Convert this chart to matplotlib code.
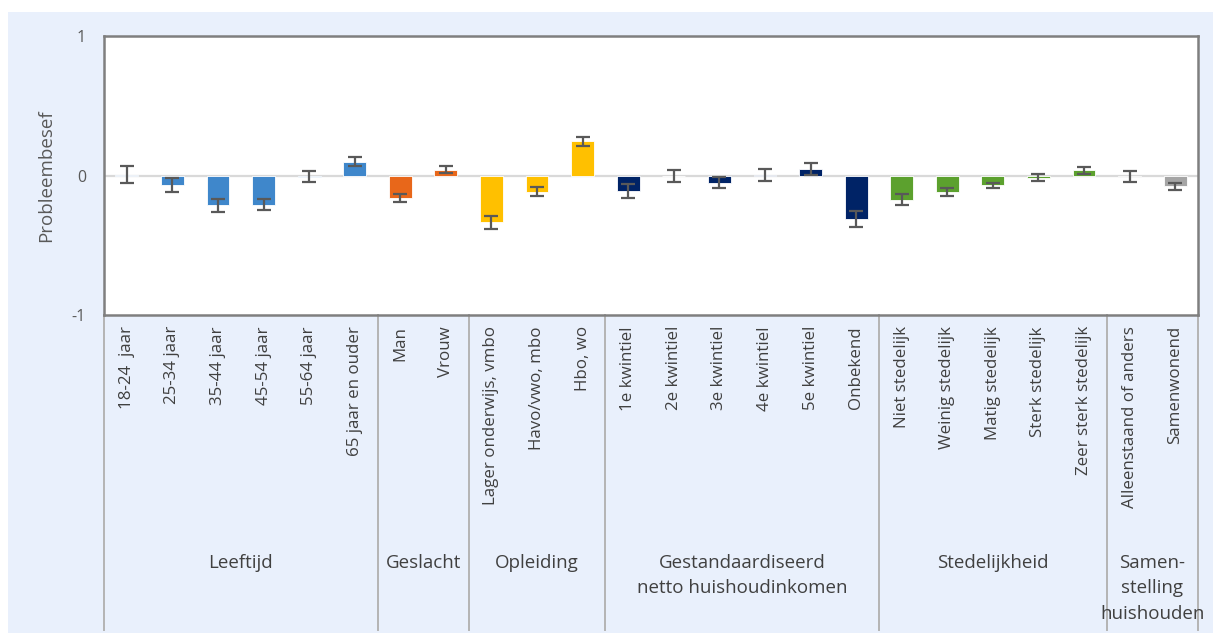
import matplotlib
matplotlib.use("Agg")
import matplotlib.pyplot as plt
from matplotlib.patches import Rectangle
from matplotlib.transforms import blended_transform_factory

plt.rcParams['font.family'] = ['Open Sans', 'DejaVu Sans']

# Categories, grouped by background characteristic
groups = ["Leeftijd", "Geslacht", "Opleiding",
          "Gestandaardiseerd\nnetto huishoudinkomen", "Stedelijkheid",
          "Samen-\nstelling\nhuishouden"]
group_sizes = [6, 2, 3, 6, 5, 2]
group_colors = ["#3F87CB", "#E8671A", "#FFC000", "#002366", "#5CA12E", "#A5A5A5"]

categories = ["18-24  jaar", "25-34 jaar", "35-44 jaar", "45-54 jaar", "55-64 jaar",
              "65 jaar en ouder",
              "Man", "Vrouw",
              "Lager onderwijs, vmbo", "Havo/vwo, mbo", "Hbo, wo",
              "1e kwintiel", "2e kwintiel", "3e kwintiel", "4e kwintiel",
              "5e kwintiel", "Onbekend",
              "Niet stedelijk", "Weinig stedelijk", "Matig stedelijk",
              "Sterk stedelijk", "Zeer sterk stedelijk",
              "Alleenstaand of anders", "Samenwonend"]

values = [0.005, -0.07, -0.215, -0.21, -0.01, 0.10,
          -0.16, 0.043,
          -0.335, -0.115, 0.245,
          -0.11, -0.005, -0.053, 0.002, 0.047, -0.31,
          -0.175, -0.12, -0.07, -0.015, 0.037,
          -0.01, -0.077]

errors = [0.06, 0.05, 0.05, 0.04, 0.04, 0.035,
          0.03, 0.024,
          0.045, 0.032, 0.033,
          0.05, 0.044, 0.04, 0.045, 0.04, 0.057,
          0.04, 0.028, 0.017, 0.025, 0.027,
          0.04, 0.024]

yticks = [-1, 0, 1]
ylabel = "Probleembesef"

W, H = 1213, 633
fig = plt.figure(figsize=(W / 100, H / 100), dpi=100)
fig.patch.set_facecolor("white")

# light panel behind the chart
fig.patches.append(Rectangle((8 / W, 0), 1 - 8 / W, (H - 12) / H,
                             transform=fig.transFigure, facecolor="#E9F0FC",
                             edgecolor="none", zorder=-10))

ax = fig.add_axes([104 / W, (H - 315) / H, 1094 / W, 279 / H])
ax.set_zorder(1)
ax.set_facecolor("white")

colors = []
for size, col in zip(group_sizes, group_colors):
    colors += [col] * size

x = list(range(len(categories)))
ax.axhline(0, color="#D9D9D9", lw=1.6, zorder=1)
ax.bar(x, values, width=0.5, color=colors, edgecolor="white", linewidth=0.6, zorder=2)
ax.errorbar(x, values, yerr=errors, fmt="none", ecolor="#595959",
            elinewidth=1.6, capsize=4.8, capthick=1.6, zorder=3)

ax.set_xlim(-0.5, len(categories) - 0.5)
ax.set_ylim(-1, 1)
ax.set_yticks(yticks)
ax.set_yticklabels([str(t) for t in yticks])
ax.tick_params(axis="y", length=0, pad=13, labelsize=11.5, labelcolor="#595959")
ax.set_xticks(x)
ax.set_xticklabels(categories, rotation=90, va="top", ha="center")
ax.tick_params(axis="x", length=0, pad=8, labelsize=12.2, labelcolor="#404040")
ax.set_ylabel(ylabel, fontsize=13.5, color="#595959", labelpad=12)

for sp in ax.spines.values():
    sp.set_color("#7F7F7F")
    sp.set_linewidth(1.8)

# group separators and group names below the category labels
sep_tr = blended_transform_factory(ax.transData, ax.transAxes)
bottom_ax = (315 - 630) / 279
edges = [-0.5]
for s in group_sizes:
    edges.append(edges[-1] + s)
for e in edges:
    ax.plot([e, e], [0, bottom_ax], transform=sep_tr, clip_on=False,
            color="#B4B4B4", lw=1.4, zorder=0)

txt_tr = blended_transform_factory(ax.transData, fig.transFigure)
for i, name in enumerate(groups):
    cx = (edges[i] + edges[i + 1]) / 2
    ax.text(cx, (H - 554) / H, name, transform=txt_tr, ha="center", va="top",
            fontsize=13.5, color="#404040", linespacing=1.52)

fig.savefig("out.png", dpi=100, facecolor=fig.get_facecolor())
